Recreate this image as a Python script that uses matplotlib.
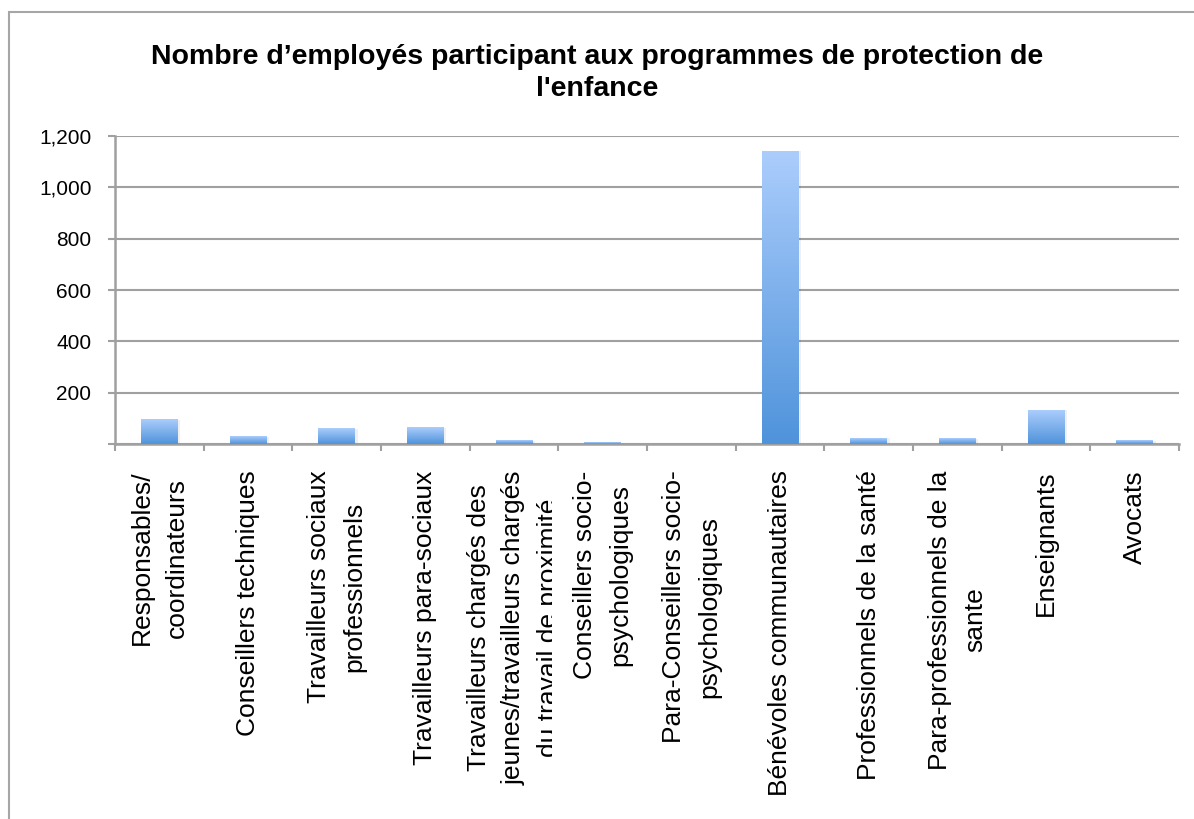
import numpy as np
import matplotlib
matplotlib.use("Agg")
import matplotlib.pyplot as plt
from matplotlib.patches import Rectangle
from matplotlib.ticker import FixedLocator
from matplotlib.transforms import Bbox

plt.rcParams['font.family'] = ['Liberation Sans', 'DejaVu Sans']

categories = [
    "Responsables/\ncoordinateurs",
    "Conseillers techniques",
    "Travailleurs sociaux\nprofessionnels",
    "Travailleurs para-sociaux",
    "Travailleurs chargés des\njeunes/travailleurs chargés\ndu travail de proximité",
    "Conseillers socio-\npsychologiques",
    "Para-Conseillers socio-\npsychologiques",
    "Bénévoles communautaires",
    "Professionnels de la santé",
    "Para-professionnels de la\nsante",
    "Enseignants",
    "Avocats",
]
values = [95, 28, 60, 63, 13, 5, 0, 1141, 23, 20, 132, 12]
yticks = [0, 200, 400, 600, 800, 1000, 1200]
ytick_labels = ["", "200", "400", "600", "800", "1,000", "1,200"]
title = "Nombre d’employés participant aux programmes de protection de\nl'enfance"

grey = "#a0a0a0"
fig = plt.figure(figsize=(11.94, 8.19), dpi=100)
ax = fig.add_axes([115 / 1194, 1 - 444 / 819, (1179 - 115) / 1194, (444 - 136) / 819])

# bars with vertical gradient (light top, darker bottom)
grad = np.linspace(0, 1, 256).reshape(-1, 1)
cmap = matplotlib.colors.LinearSegmentedColormap.from_list("g", ["#4f93db", "#abcdfc"])
bw = 0.41
for i, v in enumerate(values):
    if v <= 0:
        continue
    x0 = i + 0.5 - bw / 2
    ax.add_patch(Rectangle((x0 + 0.03, 0), bw, v, color="#000000", alpha=0.06, lw=0, zorder=2))
    ax.imshow(grad, extent=(x0, x0 + bw, 0, v), origin="lower", cmap=cmap,
              aspect="auto", zorder=3, interpolation="bilinear")

ax.set_xlim(0, len(categories))
ax.set_ylim(0, 1200)

ax.set_yticks(yticks)
ax.set_yticklabels(ytick_labels, fontsize=15)
ax.yaxis.grid(True, color=grey, lw=1.5, zorder=1)
ax.set_axisbelow(True)

ax.xaxis.set_major_locator(FixedLocator(np.arange(len(categories) + 1)))
ax.set_xticklabels([])
ax.xaxis.set_minor_locator(FixedLocator(np.arange(len(categories)) + 0.5))
labels = ax.set_xticklabels(categories, minor=True, rotation=90, fontsize=19,
                            ha="center", va="top", multialignment="center")
for lab in labels:
    lab.set_linespacing(1.58)
ax.tick_params(axis="x", which="minor", length=0, pad=19)
ax.tick_params(axis="both", which="major", length=5, width=1.5, color=grey)
ax.tick_params(axis="y", pad=12)

for s in ["top", "right"]:
    ax.spines[s].set_visible(False)
for s in ["left", "bottom"]:
    ax.spines[s].set_color(grey)
    ax.spines[s].set_linewidth(1.8)

fig.text(0.5, 1 - 73 / 819, title, ha="center", va="center", fontsize=20.5,
         fontweight="bold", linespacing=1.25)

# outer chart border
fig.patches.append(Rectangle((9 / 1194, -0.02), 1.1, 1 - 12.5 / 819 + 0.02,
                             transform=fig.transFigure, fill=False,
                             edgecolor="#a6a6a6", lw=1.5))

# the long label is cut off on its last line in the original chart
fig.canvas.draw()
bb = labels[4].get_window_extent()
labels[4].set_clip_on(True)
labels[4].set_clip_box(Bbox([[0, 0], [bb.x1 - 9, fig.bbox.height]]))

fig.savefig("out.png", dpi=100)
